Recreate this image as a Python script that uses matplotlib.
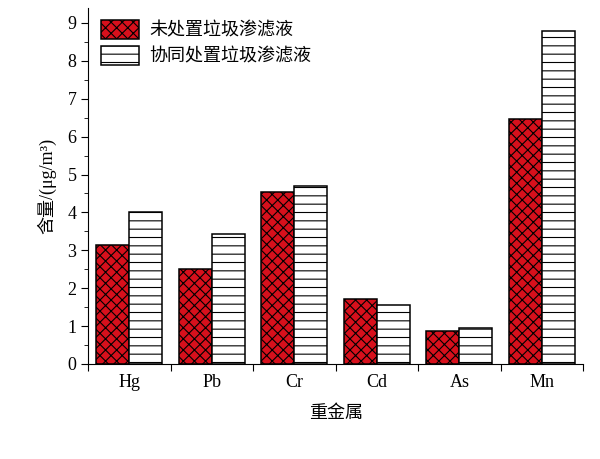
import numpy as np
import matplotlib
matplotlib.use("Agg")
import matplotlib.pyplot as plt

plt.rcParams['font.family'] = ['Liberation Serif', 'Noto Sans CJK SC']
plt.rcParams['hatch.linewidth'] = 0.8
plt.rcParams['axes.unicode_minus'] = False

#data
metals = ["Hg", "Pb", "Cr", "Cd", "As", "Mn"]
untreated = [3.15, 2.50, 4.55, 1.72, 0.87, 6.47]
cotreated = [4.02, 3.43, 4.70, 1.56, 0.96, 8.80]
labels = ["未处置垃圾渗滤液", "协同处置垃圾渗滤液"]

fig = plt.figure(figsize=(6, 4.59), dpi=100)
ax = fig.add_axes([0.147, 0.207, 0.825, 0.776])

x = np.arange(len(metals))
w = 0.4
ax.bar(x - w/2, untreated, w, color="#d7101c", edgecolor="black", hatch="xxx",
       linewidth=1.1, label=labels[0])
ax.bar(x + w/2, cotreated, w, color="white", edgecolor="black", hatch="--",
       linewidth=1.1, label=labels[1])

ax.set_xlim(-0.5, len(metals) - 0.5)
ax.set_ylim(0, 9.4)
ax.set_yticks(np.arange(0, 10, 1))
ax.set_yticks(np.arange(0.5, 9.5, 1), minor=True)
ax.set_xticks(np.arange(-0.5, len(metals), 1))
ax.set_xticklabels([])
ax.set_xticks(x, minor=True)
ax.set_xticklabels(metals, minor=True)
ax.tick_params(axis="x", which="minor", length=0, labelsize=13, pad=7)
ax.tick_params(axis="x", which="major", length=5, direction="out")
ax.tick_params(axis="y", which="major", length=5, labelsize=13)
ax.tick_params(axis="y", which="minor", length=3)

for s in ["top", "right"]:
    ax.spines[s].set_visible(False)

ax.set_xlabel("重金属", fontsize=13, labelpad=10)
ax.set_ylabel("含量/(μg/m³)", fontsize=13, labelpad=8)

ax.legend(loc="upper left", frameon=False, fontsize=13, handlelength=2.1,
          handleheight=1.2, handletextpad=0.6, borderaxespad=0.3,
          labelspacing=0.35, bbox_to_anchor=(0.0, 1.0))

fig.savefig("out.png", dpi=100)
